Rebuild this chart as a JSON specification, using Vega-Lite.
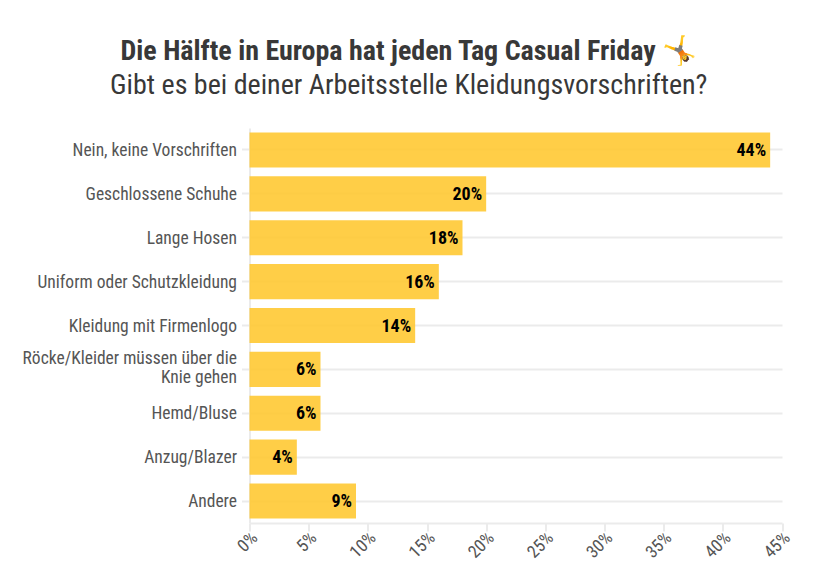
{
  "$schema": "https://vega.github.io/schema/vega-lite/v6.json",
  "width": 532.5,
  "height": 395,
  "background": "white",
  "autosize": "none",
  "padding": {"left": 249.5, "top": 128, "right": 58, "bottom": 54},
  "title": {
    "text": "Die Hälfte in Europa hat jeden Tag Casual Friday 🤸",
    "subtitle": "Gibt es bei deiner Arbeitsstelle Kleidungsvorschriften?",
    "anchor": "middle",
    "frame": "group",
    "dx": -107,
    "offset": 28,
    "font": "Roboto Condensed, Liberation Sans Narrow",
    "fontSize": 28,
    "fontWeight": "bold",
    "color": "#383838",
    "subtitleFont": "Roboto Condensed, Liberation Sans Narrow",
    "subtitleFontSize": 28,
    "subtitleFontWeight": "normal",
    "subtitleColor": "#383838",
    "subtitlePadding": 6
  },
  "data": {
    "values": [
      {"antwort": "Nein, keine Vorschriften", "anteil": 0.44},
      {"antwort": "Geschlossene Schuhe", "anteil": 0.20},
      {"antwort": "Lange Hosen", "anteil": 0.18},
      {"antwort": "Uniform oder Schutzkleidung", "anteil": 0.16},
      {"antwort": "Kleidung mit Firmenlogo", "anteil": 0.14},
      {"antwort": "Röcke/Kleider müssen über die Knie gehen", "anteil": 0.06},
      {"antwort": "Hemd/Bluse", "anteil": 0.06},
      {"antwort": "Anzug/Blazer", "anteil": 0.04},
      {"antwort": "Andere", "anteil": 0.09}
    ]
  },
  "config": {"view": {"stroke": null}},
  "encoding": {
    "y": {
      "field": "antwort",
      "type": "nominal",
      "sort": null,
      "title": null,
      "scale": {"paddingInner": 0.2, "paddingOuter": 0.1},
      "axis": {
        "grid": true,
        "gridColor": "#ebebeb",
        "gridWidth": 2,
        "domainColor": "#ebebeb",
        "domainWidth": 2,
        "tickColor": "#ebebeb",
        "tickWidth": 2,
        "tickSize": 8,
        "labelPadding": 5,
        "labelFont": "Roboto Condensed, Liberation Sans Narrow",
        "labelFontSize": 17.5,
        "labelColor": "#555555",
        "labelLimit": 300,
        "labelLineHeight": 19,
        "labelOffset": {
          "condition": {"test": "datum.value == 'Röcke/Kleider müssen über die Knie gehen'", "value": -10},
          "value": 1
        },
        "labelExpr": "datum.label == 'Röcke/Kleider müssen über die Knie gehen' ? ['Röcke/Kleider müssen über die', 'Knie gehen'] : datum.label"
      }
    },
    "x": {
      "field": "anteil",
      "type": "quantitative",
      "title": null,
      "scale": {"domain": [0, 0.45]},
      "axis": {
        "format": ".0%",
        "values": [0, 0.05, 0.1, 0.15, 0.2, 0.25, 0.3, 0.35, 0.4, 0.45],
        "grid": false,
        "domainColor": "#ebebeb",
        "domainWidth": 2,
        "tickColor": "#ebebeb",
        "tickWidth": 2,
        "tickSize": 8,
        "labelAngle": -45,
        "labelAlign": "right",
        "labelBaseline": "middle",
        "labelPadding": 4,
        "labelOffset": 5,
        "labelFont": "Roboto Condensed, Liberation Sans Narrow",
        "labelFontSize": 17.5,
        "labelColor": "#555555"
      }
    }
  },
  "layer": [
    {"mark": {"type": "bar", "color": "#ffc933", "opacity": 0.9}},
    {
      "mark": {
        "type": "text",
        "align": "right",
        "dx": -4,
        "dy": 1,
        "font": "Roboto Condensed, Liberation Sans Narrow",
        "fontSize": 18,
        "fontWeight": "bold",
        "color": "#000000"
      },
      "encoding": {"text": {"field": "anteil", "type": "quantitative", "format": ".0%"}}
    }
  ]
}
